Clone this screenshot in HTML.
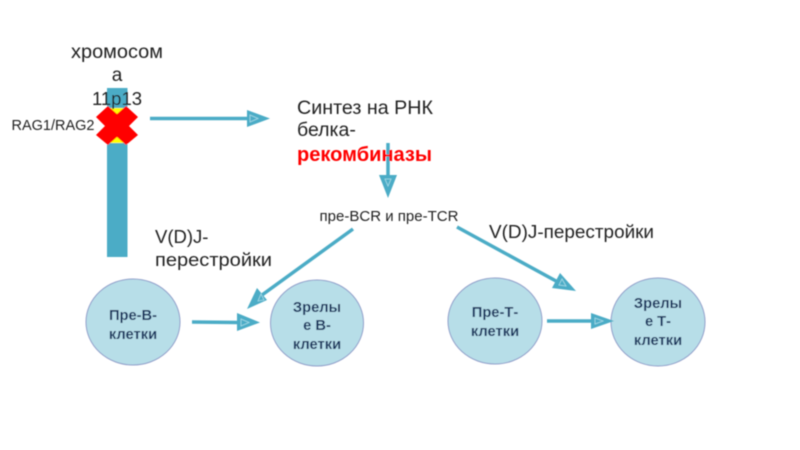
<!DOCTYPE html>
<html><head><meta charset="utf-8">
<style>
html,body{margin:0;padding:0;background:#fff;width:800px;height:450px;overflow:hidden}
svg{display:block}
text{font-family:"Liberation Sans",sans-serif;text-anchor:middle}
.t{fill:#222}
.b{font-weight:bold;font-size:14.7px;fill:#14365e}
.s{text-anchor:start}
</style></head><body>
<svg width="800" height="450" viewBox="0 0 800 450">
<defs><filter id="bl" x="-5%" y="-5%" width="110%" height="110%"><feGaussianBlur stdDeviation="0.5"/></filter></defs>
<g filter="url(#bl)">
<!-- chromosome -->
<rect x="107" y="88" width="20.500" height="169" fill="#4bacc6"/>
<rect x="107" y="108" width="20.500" height="35" fill="#ffff00"/>
<!-- red X -->
<polygon points="108,106 117,114 126,106 138,117 129,126 138,135 126,145 117,137 108,145 96,135 105,126 96,117" fill="#ff0000"/>
<!-- ellipses -->
<ellipse cx="133" cy="322" rx="47" ry="43" fill="#b7dee8" stroke="#8f9cc9" stroke-width="1"/>
<ellipse cx="317" cy="323" rx="46.500" ry="43" fill="#b7dee8" stroke="#8f9cc9" stroke-width="1"/>
<ellipse cx="495" cy="321" rx="47" ry="43" fill="#b7dee8" stroke="#8f9cc9" stroke-width="1"/>
<ellipse cx="658" cy="322" rx="47" ry="44" fill="#b7dee8" stroke="#8f9cc9" stroke-width="1"/>
<!-- arrows -->
<g stroke="#4bacc6" stroke-width="3.500" fill="none">
<line x1="150" y1="118.500" x2="250" y2="118.500"/>
<line x1="388" y1="143" x2="388" y2="178"/>
<line x1="353" y1="229" x2="262" y2="295"/>
<line x1="457" y1="227" x2="556" y2="281"/>
<line x1="192" y1="322" x2="238" y2="322.500"/>
<line x1="547" y1="321" x2="592" y2="321"/>
</g>
<g fill="#4bacc6">
<polygon points="247,110 270,118.500 247,127"/>
<polygon points="379,175 397,175 388,198"/>
<polygon points="247,309 257,288 267,300"/>
<polygon points="576,291 552,288 560,273"/>
<polygon points="237,313 260,322.500 237,331"/>
<polygon points="591,313 614,321 591,329"/>
</g>
<g fill="none" stroke="#a5dbe8" stroke-width="0.800">
<polygon points="250,115 258,118.500 250,122"/>
<polygon points="385,179 391,179 388,186"/>
<polygon points="258,301 261,294 264,300"/>
<polygon points="566,286 559,285 562,279"/>
<polygon points="241,319 249,322.500 241,326"/>
<polygon points="595,318 603,321 595,324"/>
</g>
<!-- labels -->
<g class="t">
<text x="117" y="58" font-size="19" class="t" textLength="92" lengthAdjust="spacingAndGlyphs">хромосом</text>
<text x="117" y="81" font-size="19" class="t">а</text>
<text x="117" y="105" font-size="18.500" class="t">11p13</text>
<text x="53" y="130" font-size="14.500" class="t">RAG1/RAG2</text>
<text x="297" y="114" font-size="19.500" class="t s" textLength="136" lengthAdjust="spacingAndGlyphs">Синтез на РНК</text>
<text x="297" y="136" font-size="19.500" class="t s">белка-</text>
<text x="297" y="161" font-size="20" font-weight="bold" class="s" style="fill:#ff0000" textLength="135" lengthAdjust="spacingAndGlyphs">рекомбиназы</text>
<text x="389" y="221" font-size="15" class="t" textLength="139" lengthAdjust="spacingAndGlyphs">пре-BCR и пре-TCR</text>
<text x="155" y="243" font-size="18.500" class="t s">V(D)J-</text>
<text x="155" y="266" font-size="18.500" class="t s" textLength="117" lengthAdjust="spacingAndGlyphs">перестройки</text>
<text x="489" y="238" font-size="18.500" class="t s" textLength="165" lengthAdjust="spacingAndGlyphs">V(D)J-перестройки</text>
</g>
<text x="133" y="320" class="b">Пре-В-</text>
<text x="133" y="339" class="b">клетки</text>
<text x="317" y="312" class="b">Зрелы</text>
<text x="317" y="330" class="b">е В-</text>
<text x="317" y="349" class="b">клетки</text>
<text x="495" y="317" class="b">Пре-Т-</text>
<text x="495" y="336" class="b">клетки</text>
<text x="658" y="308" class="b">Зрелы</text>
<text x="658" y="326" class="b">е Т-</text>
<text x="658" y="345" class="b">клетки</text>
</g>
</svg>
</body></html>
